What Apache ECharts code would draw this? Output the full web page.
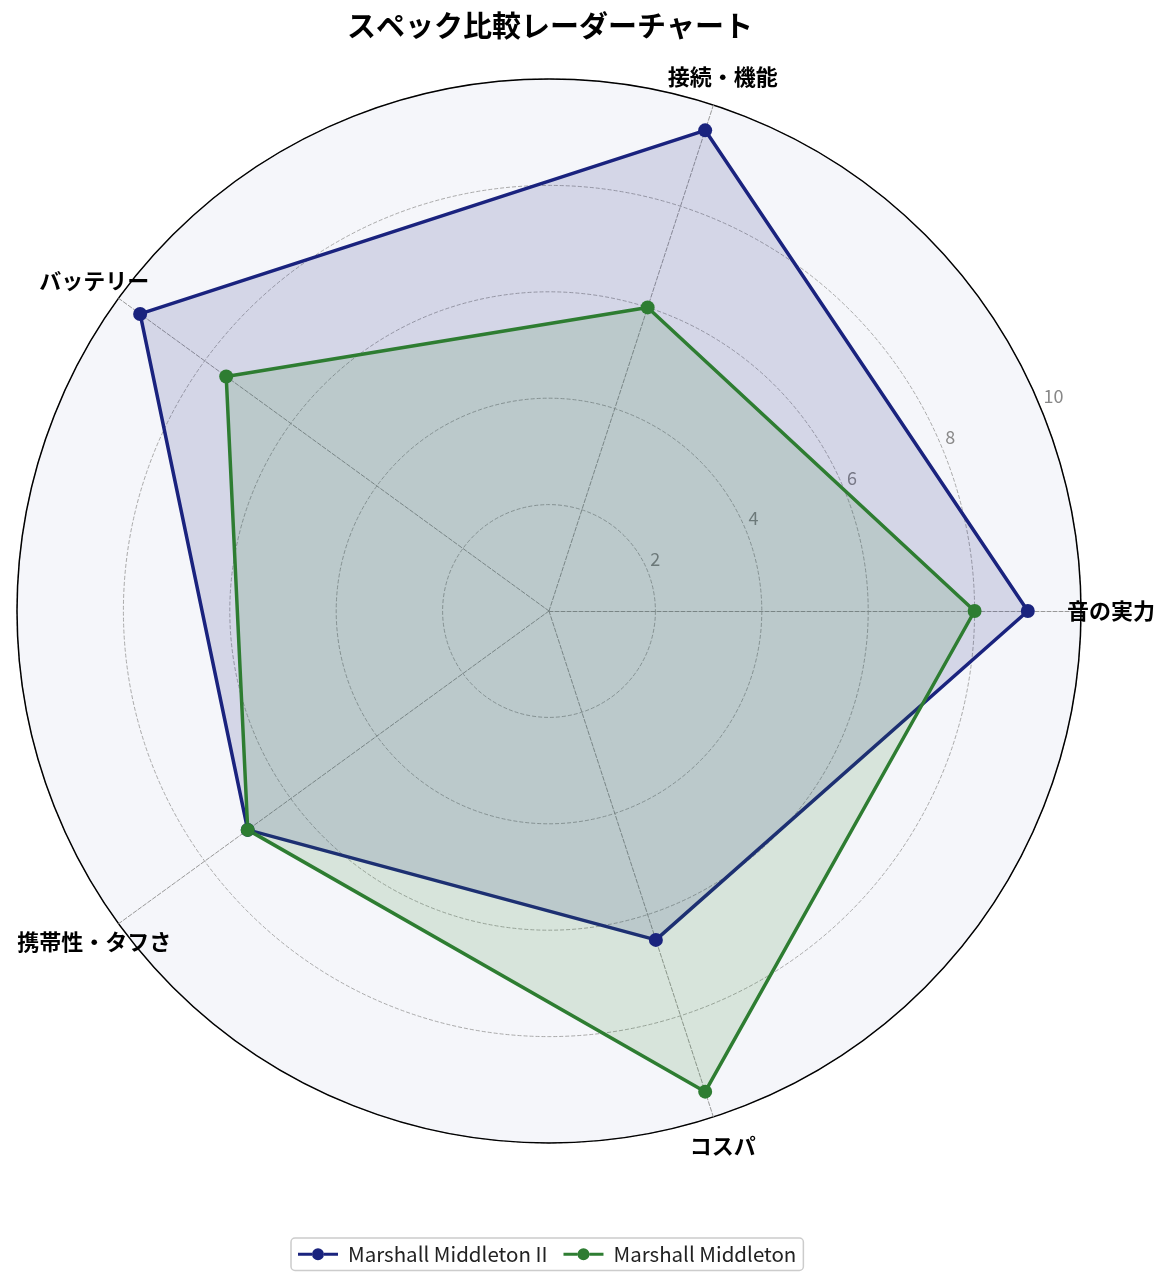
<!DOCTYPE html>
<html>
<head>
<meta charset="utf-8">
<script src="https://cdn.jsdelivr.net/npm/echarts@6/dist/echarts.min.js"></script>
<style>
  html, body { margin: 0; padding: 0; background: #fff; }
  #chart { width: 1172px; height: 1288px; }
</style>
</head>
<body>
<div id="chart"></div>
<script>
// 項目とスコア
var indicators = ['音の実力', '接続・機能', 'バッテリー', '携帯性・タフさ', 'コスパ'];
var seriesNames = ['Marshall Middleton II', 'Marshall Middleton'];
var middleton2 = [9, 9.5, 9.5, 7, 6.5];
var middleton1 = [8, 6, 7.5, 7, 9.5];
var radialTicks = [0, 2, 4, 6, 8, 10];
var colors = ['#1a237e', '#2e7d32'];

var font = 'Noto Sans CJK JP';
var legendIcon = 'path://M0,5H14V8H0Z M26,5H40V8H26Z M14,6.5A6,6 0 1 1 26,6.5A6,6 0 1 1 14,6.5Z';

var myChart = echarts.init(document.getElementById('chart'));
var options = {
    backgroundColor: '#fff',
    textStyle: { fontFamily: font },
    title: {
        text: 'スペック比較レーダーチャート',
        left: 545,
        top: 6,
        textAlign: 'center',
        textStyle: { fontSize: 29, fontWeight: 'bold', color: '#000', fontFamily: font }
    },
    legend: {
        data: seriesNames.map(function (n) { return { name: n, icon: legendIcon }; }),
        left: 291,
        top: 1238,
        itemWidth: 40,
        itemHeight: 13,
        itemGap: 16,
        padding: [6, 7],
        borderColor: '#cccccc',
        borderWidth: 1.5,
        borderRadius: 4,
        textStyle: { fontSize: 20.5, color: '#222', fontFamily: font, padding: [0, 0, 0, 5] }
    },
    // 目盛りラベルと外周線用の極座標（ラベル位置22.5度）
    polar: { center: [549, 611], radius: 532 },
    angleAxis: {
        type: 'value',
        min: 0,
        max: 360,
        startAngle: 22.5,
        clockwise: false,
        axisLine: { show: true, lineStyle: { color: '#000', width: 1.5 } },
        axisTick: { show: false },
        axisLabel: { show: false },
        splitLine: { show: false }
    },
    radiusAxis: {
        type: 'value',
        min: radialTicks[0],
        max: radialTicks[radialTicks.length - 1],
        interval: 2,
        axisLine: { show: false },
        axisTick: { show: false },
        axisLabel: {
            color: '#888',
            fontSize: 18,
            fontFamily: font,
            margin: 0,
            align: 'left',
            verticalAlign: 'bottom',
            padding: [0, 0, 2, 3],
            formatter: function (v) { return v === 0 ? '' : v; }
        },
        splitLine: { show: false },
        splitArea: { show: false }
    },
    radar: {
        center: [549, 611],
        radius: 532,
        startAngle: 0,
        shape: 'circle',
        splitNumber: 5,
        indicator: indicators.map(function (n) { return { name: n, min: 0, max: 10 }; }),
        nameGap: 30,
        axisName: {
            color: '#000', fontSize: 22, fontWeight: 'bold', fontFamily: font,
            align: 'center', verticalAlign: 'middle'
        },
        axisLine: { lineStyle: { color: '#999', type: 'dashed', width: 1 } },
        splitLine: { show: true, lineStyle: { color: '#aaaaaa', type: 'dashed', width: 1 } },
        splitArea: { show: true, areaStyle: { color: ['#f5f6fa'] } },
        axisLabel: { show: false },
        axisTick: { show: false }
    },
    series: [{
        type: 'radar',
        symbol: 'circle',
        symbolSize: 14,
        data: [
            {
                name: seriesNames[0],
                value: middleton2,
                itemStyle: { color: colors[0] },
                lineStyle: { color: colors[0], width: 3.5 },
                areaStyle: { color: colors[0], opacity: 0.15 }
            },
            {
                name: seriesNames[1],
                value: middleton1,
                itemStyle: { color: colors[1] },
                lineStyle: { color: colors[1], width: 3.5 },
                areaStyle: { color: colors[1], opacity: 0.15 }
            }
        ]
    }]
};
myChart.setOption(options);
</script>
</body>
</html>
